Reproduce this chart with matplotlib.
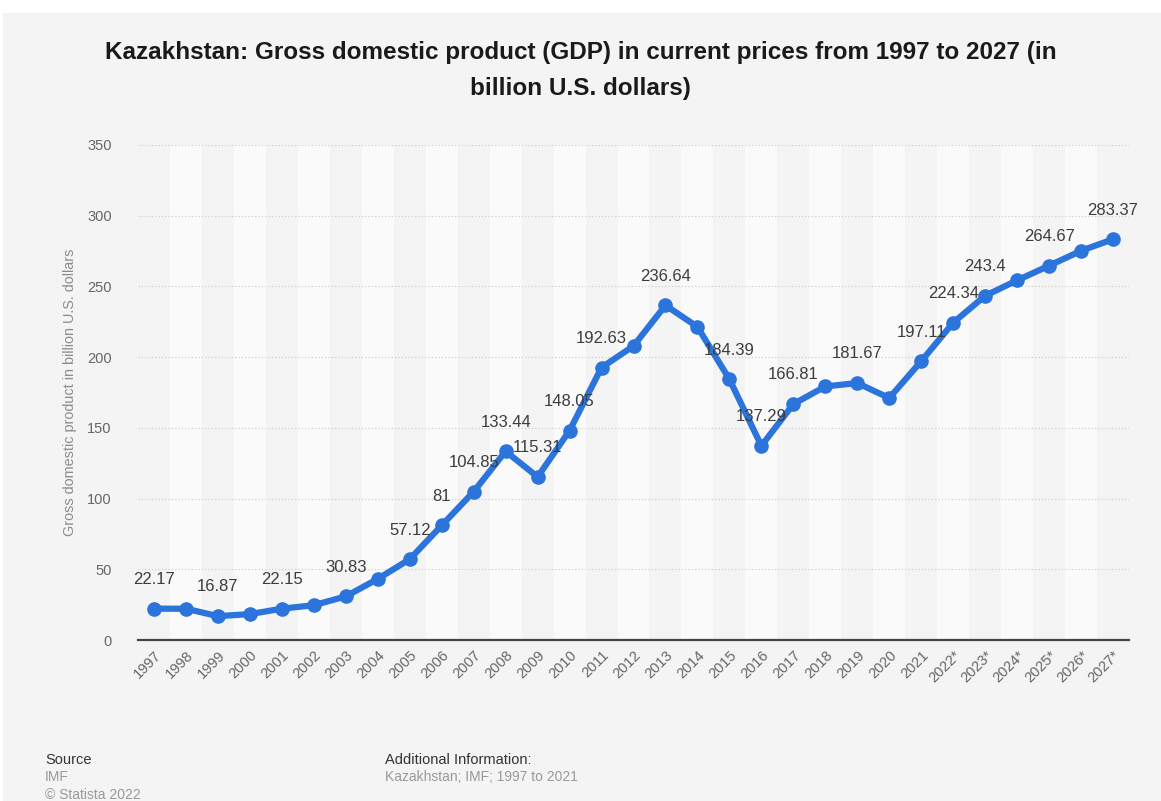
import matplotlib.pyplot as plt
from matplotlib.patches import Rectangle

plt.rcParams["font.family"] = ["Liberation Sans", "DejaVu Sans"]

years = ["1997", "1998", "1999", "2000", "2001", "2002", "2003", "2004", "2005",
         "2006", "2007", "2008", "2009", "2010", "2011", "2012", "2013", "2014",
         "2015", "2016", "2017", "2018", "2019", "2020", "2021", "2022*", "2023*",
         "2024*", "2025*", "2026*", "2027*"]
gdp = [22.17, 22.1, 16.87, 18.3, 22.15, 24.6, 30.83, 43.2, 57.12,
       81.0, 104.85, 133.44, 115.31, 148.05, 192.63, 207.9, 236.64, 221.4,
       184.39, 137.29, 166.81, 179.3, 181.67, 171.1, 197.11, 224.34, 243.4,
       254.3, 264.67, 275.2, 283.37]
# which points carry a value label in the original
labelled = ["1997", "1999", "2001", "2003", "2005", "2006", "2007", "2008", "2009",
            "2010", "2011", "2013", "2015", "2016", "2017", "2019", "2021", "2022*",
            "2023*", "2025*", "2027*"]
value_text = {"2006": "81", "2023*": "243.4"}

BLUE = "#2a74dc"
BG = "#f4f4f4"

fig = plt.figure(figsize=(11.61, 8.01), dpi=100)
fig.patch.set_facecolor("white")
fig.patches.append(Rectangle((3 / 1161, 0), 1, 1 - 13 / 801, transform=fig.transFigure,
                             facecolor=BG, edgecolor="none", zorder=-10))

ax = fig.add_axes([138 / 1161, 1 - 640 / 801, 991 / 1161, 495 / 801])
ax.set_facecolor(BG)
x = list(range(len(years)))
for i in x:
    if i % 2 == 1:
        ax.axvspan(i - 0.5, i + 0.5, color="#fafafa", lw=0, zorder=0)

ax.plot(x, gdp, color=BLUE, lw=4.5, marker="o", ms=9.5, zorder=3,
        solid_joinstyle="round", solid_capstyle="round")

for i, (yr, v) in enumerate(zip(years, gdp)):
    if yr in labelled:
        txt = value_text.get(yr, f"{v:g}")
        ax.annotate(txt, (i, v), xytext=(0, 21), textcoords="offset points",
                    ha="center", va="center", fontsize=12, color="#3c3c3c", zorder=4)

ax.set_xlim(-0.5, len(years) - 0.5)
ax.set_ylim(0, 350)
ax.set_yticks(range(0, 351, 50))
ax.yaxis.grid(True, color="#c8c8c8", linestyle=(0, (1, 2)), lw=0.8)
ax.set_axisbelow(True)
ax.set_xticks(x)
ax.set_xticklabels(years, rotation=45, ha="right", va="top", rotation_mode="anchor")
ax.tick_params(axis="y", length=0, pad=19, labelsize=10.5, labelcolor="#666666")
ax.tick_params(axis="x", length=0, pad=6, labelsize=10.5, labelcolor="#666666")
for s in ["top", "right", "left"]:
    ax.spines[s].set_visible(False)
ax.spines["bottom"].set_color("#444444")
ax.spines["bottom"].set_linewidth(1.6)
ax.set_ylabel("Gross domestic product in billion U.S. dollars", fontsize=10.4,
              color="#8c8c8c", labelpad=7)

fig.text(0.5, 1 - 52 / 801, "Kazakhstan: Gross domestic product (GDP) in current prices from 1997 to 2027 (in",
         ha="center", va="center", fontsize=17.5, fontweight="bold", color="#1a1a1a")
fig.text(0.5, 1 - 88 / 801, "billion U.S. dollars)",
         ha="center", va="center", fontsize=17.5, fontweight="bold", color="#1a1a1a")

fig.text(45 / 1161, 1 - 760 / 801, "Source", fontsize=10.5, color="#333333", va="center")
fig.text(45 / 1161, 1 - 777 / 801, "IMF", fontsize=10, color="#999999", va="center")
fig.text(45 / 1161, 1 - 795 / 801, "© Statista 2022", fontsize=10, color="#999999", va="center")
fig.text(385 / 1161, 1 - 760 / 801, "Additional Information:", fontsize=10.5, color="#333333", va="center")
fig.text(385 / 1161, 1 - 777 / 801, "Kazakhstan; IMF; 1997 to 2021", fontsize=10, color="#999999", va="center")

fig.savefig("out.png", dpi=100, facecolor=fig.get_facecolor())
